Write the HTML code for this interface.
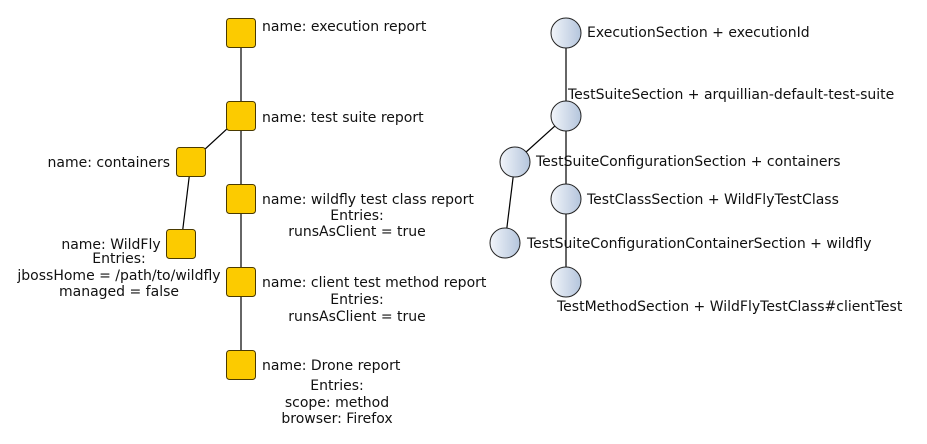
<!DOCTYPE html>
<html><head><style>body{margin:0;background:#fff}svg{display:block}</style></head><body>
<svg width="927" height="444" viewBox="0 0 927 444" xmlns="http://www.w3.org/2000/svg" font-family="DejaVu Sans, sans-serif" font-size="14" fill="#111">
<defs><linearGradient id="g" x1="0" y1="0" x2="1" y2="0"><stop offset="0" stop-color="#f2f5fa"/><stop offset="1" stop-color="#b4c5dc"/></linearGradient></defs>
<g stroke="#000" stroke-width="1.2">
<line x1="241" y1="33" x2="241" y2="365"/>
<line x1="241" y1="116" x2="191" y2="162"/>
<line x1="191" y1="162" x2="181" y2="244"/>
<line x1="566" y1="33" x2="566" y2="282"/>
<line x1="566" y1="116" x2="515" y2="162"/>
<line x1="515" y1="162" x2="505" y2="243"/>
</g>
<g fill="#fccb00" stroke="#4a3a00" stroke-width="1">
<rect x="226.5" y="18.5" width="29" height="29" rx="3"/>
<rect x="226.5" y="101.5" width="29" height="29" rx="3"/>
<rect x="176.5" y="147.5" width="29" height="29" rx="3"/>
<rect x="226.5" y="184.5" width="29" height="29" rx="3"/>
<rect x="166.5" y="229.5" width="29" height="29" rx="3"/>
<rect x="226.5" y="267.5" width="29" height="29" rx="3"/>
<rect x="226.5" y="350.5" width="29" height="29" rx="3"/>
</g>
<g fill="url(#g)" stroke="#222" stroke-width="1">
<circle cx="566" cy="33" r="15"/>
<circle cx="566" cy="116" r="15"/>
<circle cx="515" cy="162" r="15"/>
<circle cx="566" cy="199" r="15"/>
<circle cx="505" cy="243" r="15"/>
<circle cx="566" cy="282" r="15"/>
</g>
<text x="262" y="31">name: execution report</text>
<text x="262" y="122">name: test suite report</text>
<text x="170" y="167" text-anchor="end">name: containers</text>
<text x="262" y="204">name: wildfly test class report</text>
<text x="357" y="220" text-anchor="middle">Entries:</text>
<text x="357" y="236" text-anchor="middle">runsAsClient = true</text>
<text x="111" y="249" text-anchor="middle">name: WildFly</text>
<text x="119" y="263" text-anchor="middle">Entries:</text>
<text x="119" y="280" text-anchor="middle">jbossHome = /path/to/wildfly</text>
<text x="119" y="296" text-anchor="middle">managed = false</text>
<text x="262" y="287">name: client test method report</text>
<text x="357" y="304" text-anchor="middle">Entries:</text>
<text x="357" y="321" text-anchor="middle">runsAsClient = true</text>
<text x="262" y="370">name: Drone report</text>
<text x="337" y="390" text-anchor="middle">Entries:</text>
<text x="337" y="407" text-anchor="middle">scope: method</text>
<text x="337" y="423" text-anchor="middle">browser: Firefox</text>
<text x="587" y="37">ExecutionSection + executionId</text>
<text x="568" y="99">TestSuiteSection + arquillian-default-test-suite</text>
<text x="536" y="166">TestSuiteConfigurationSection + containers</text>
<text x="587" y="204">TestClassSection + WildFlyTestClass</text>
<text x="527" y="248">TestSuiteConfigurationContainerSection + wildfly</text>
<text x="557" y="311">TestMethodSection + WildFlyTestClass#clientTest</text>
</svg>
</body></html>
